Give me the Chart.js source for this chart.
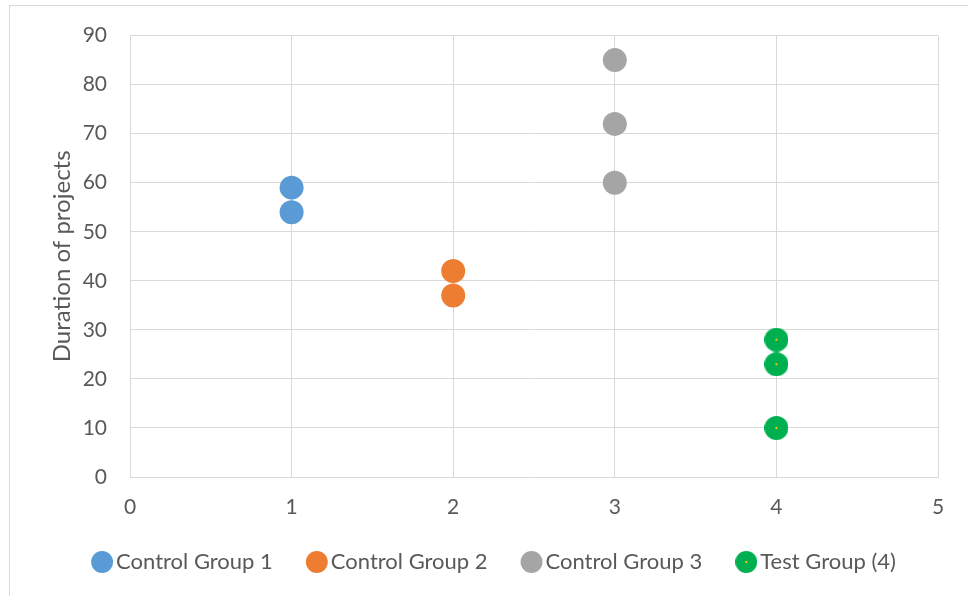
<!DOCTYPE html>
<html>
<head>
<meta charset="utf-8">
<script src="https://cdn.jsdelivr.net/npm/chart.js@4/dist/chart.umd.min.js"></script>
<style>
  html, body { margin: 0; padding: 0; background: #ffffff; overflow: hidden; }
  canvas { display: block; }
</style>
</head>
<body>
<canvas id="chart" width="968" height="596"></canvas>
<script>
// Series names and measured durations per group
const seriesNames = ['Control Group 1', 'Control Group 2', 'Control Group 3', 'Test Group (4)'];
const group1X = [1, 1];
const group1Y = [59, 54];
const group2X = [2, 2];
const group2Y = [42, 37];
const group3X = [3, 3, 3];
const group3Y = [85, 72, 60];
const testX = [4, 4, 4];
const testY = [28, 23, 10];

// Axis ranges
const xRange = [0, 5];
const xStep = 1;
const yRange = [0, 90];
const yStep = 10;
const yTitle = 'Duration of projects';

const colors = ['#5b9bd5', '#ed7d31', '#a5a5a5', '#00b050'];
const textColor = '#595959';
const gridColor = '#d9d9d9';
const fontFamily = 'Lato, "Open Sans", sans-serif';

// Green marker with a small yellow centre dot
function dotMarker(size) {
  const c = document.createElement('canvas');
  c.width = size; c.height = size;
  const g = c.getContext('2d');
  g.fillStyle = colors[3];
  g.beginPath();
  g.arc(size / 2, size / 2, size / 2, 0, Math.PI * 2);
  g.fill();
  g.fillStyle = '#ffc000';
  g.fillRect(size / 2 - 1, size / 2 - 1, 2, 2);
  return c;
}
const testMarker = dotMarker(24);
const testLegendMarker = dotMarker(22);

function toPoints(xs, ys) {
  return xs.map((x, i) => ({ x: x, y: ys[i] }));
}

// Thin frame around the whole chart area
const outerFrame = {
  id: 'outerFrame',
  beforeDraw(chart) {
    const ctx = chart.ctx;
    ctx.save();
    ctx.strokeStyle = gridColor;
    ctx.lineWidth = 1;
    ctx.strokeRect(9.5, 5.5, 2000, 2000);
    ctx.restore();
  }
};

new Chart(document.getElementById('chart'), {
  type: 'scatter',
  data: {
    datasets: [
      { label: seriesNames[0], data: toPoints(group1X, group1Y), backgroundColor: colors[0], pointStyle: 'circle' },
      { label: seriesNames[1], data: toPoints(group2X, group2Y), backgroundColor: colors[1], pointStyle: 'circle' },
      { label: seriesNames[2], data: toPoints(group3X, group3Y), backgroundColor: colors[2], pointStyle: 'circle' },
      { label: seriesNames[3], data: toPoints(testX, testY), backgroundColor: colors[3], pointStyle: testMarker }
    ].map(d => Object.assign(d, { pointRadius: 12, pointHoverRadius: 12, borderWidth: 0, pointBorderWidth: 0 }))
  },
  options: {
    responsive: false,
    devicePixelRatio: 1,
    animation: false,
    layout: { padding: { left: 57, right: 30, top: 35, bottom: 13 } },
    scales: {
      x: {
        type: 'linear',
        min: xRange[0],
        max: xRange[1],
        ticks: { stepSize: xStep, color: textColor, font: { family: fontFamily, size: 21 }, padding: 18 },
        grid: { color: gridColor, drawTicks: false },
        border: { color: gridColor },
        afterFit(scale) { scale.height = 40; }
      },
      y: {
        min: yRange[0],
        max: yRange[1],
        ticks: { stepSize: yStep, color: textColor, font: { family: fontFamily, size: 21 }, padding: 23 },
        grid: { color: gridColor, drawTicks: false },
        border: { color: gridColor },
        title: {
          display: true, text: yTitle, color: textColor,
          font: { family: fontFamily, size: 24 },
          padding: { top: -9.5, bottom: 4 }
        },
        afterFit(scale) { scale.width = 73; }
      }
    },
    plugins: {
      tooltip: { enabled: false },
      legend: {
        position: 'bottom',
        // empty title with negative padding pulls the legend row up a little
        title: { display: true, text: '', font: { lineHeight: 0 }, padding: { top: -7, bottom: 0 } },
        labels: {
          usePointStyle: true,
          boxWidth: 6,
          boxHeight: 15.5,
          padding: 41,
          color: textColor,
          font: { family: fontFamily, size: 22 },
          generateLabels(chart) {
            const items = Chart.defaults.plugins.legend.labels.generateLabels(chart);
            items.forEach((it, i) => {
              it.lineWidth = 0;
              it.strokeStyle = 'rgba(0,0,0,0)';
              if (i === 3) it.pointStyle = testLegendMarker;
            });
            return items;
          }
        }
      }
    }
  },
  plugins: [outerFrame]
});
</script>
</body>
</html>
